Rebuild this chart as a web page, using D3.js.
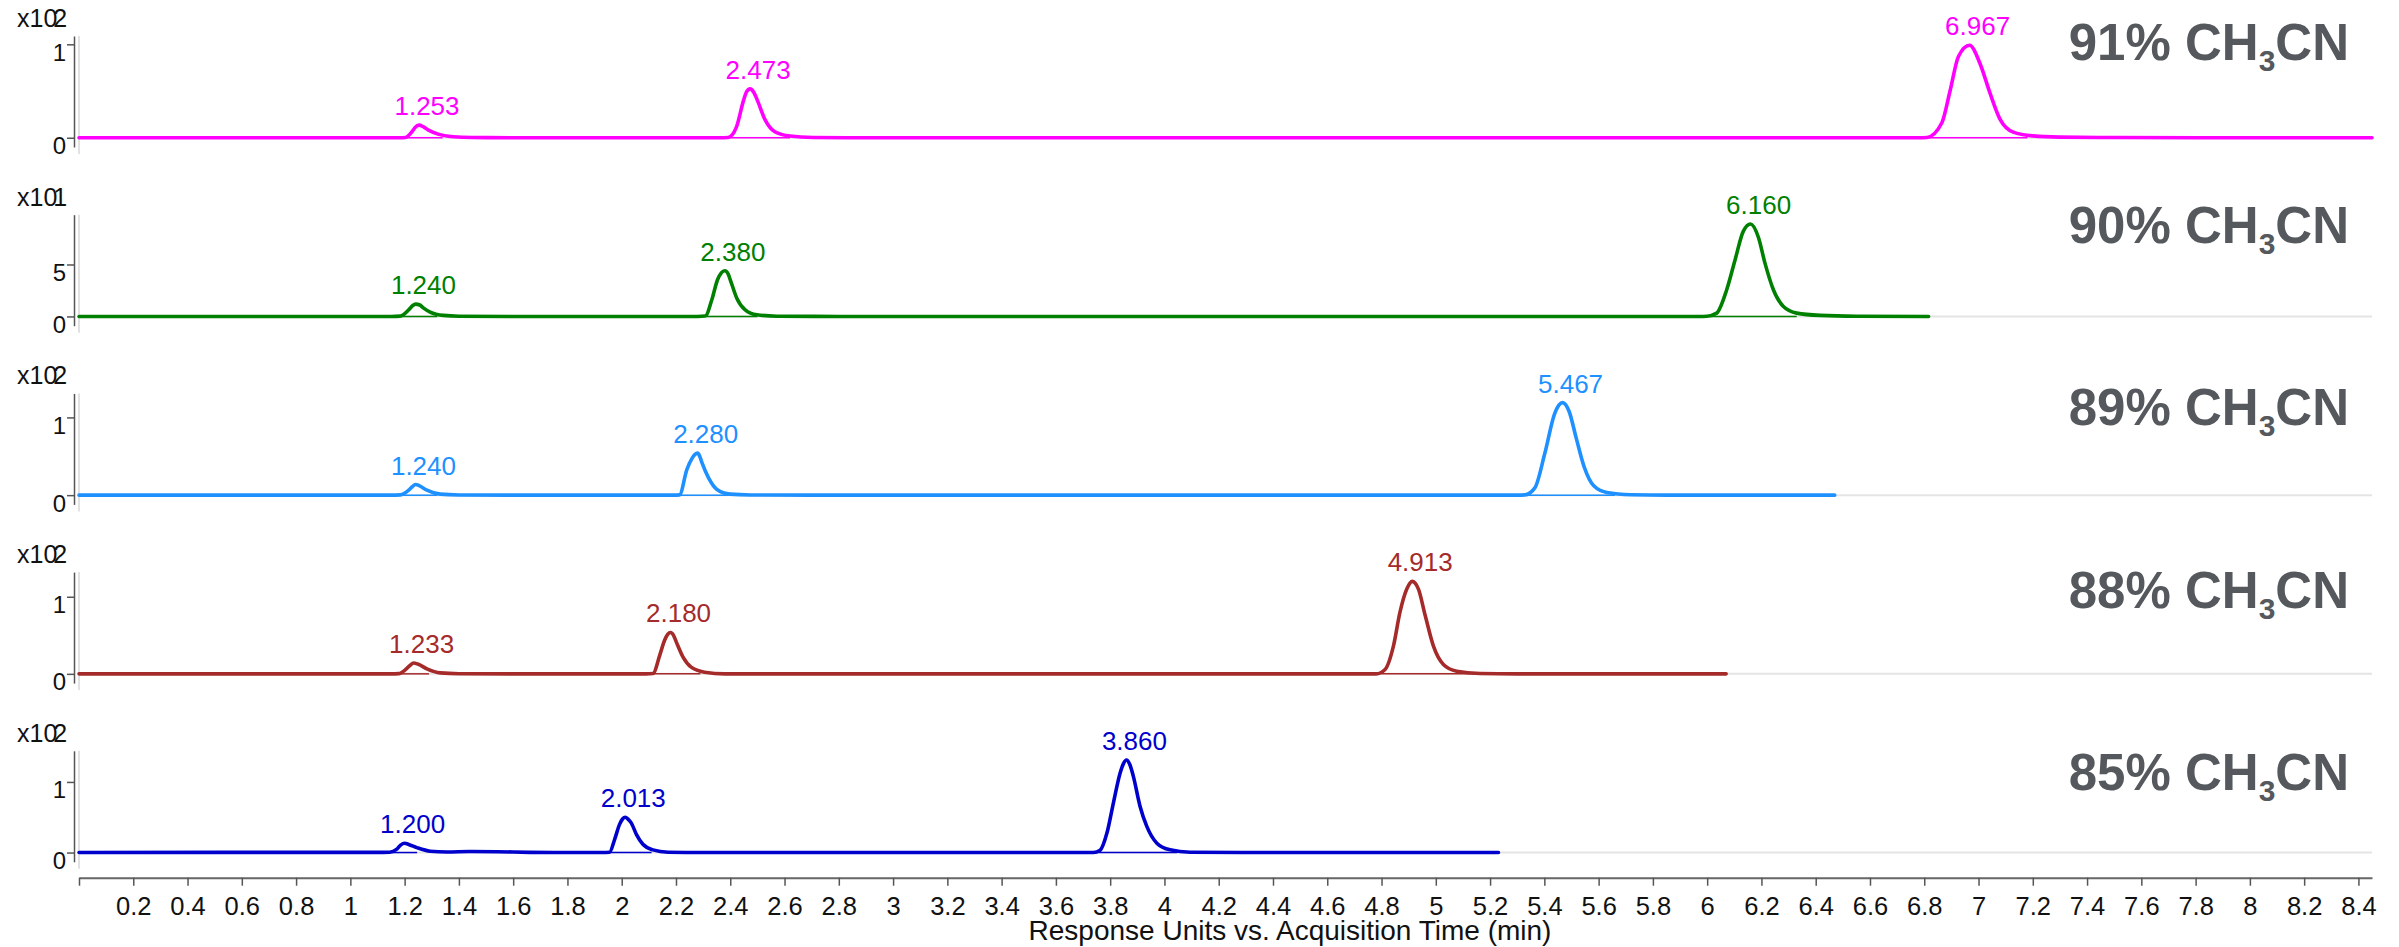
<!DOCTYPE html>
<html>
<head>
<meta charset="utf-8">
<script src="https://cdn.jsdelivr.net/npm/d3@7"></script>
<style>
  html, body { margin: 0; padding: 0; background: #fff; }
  svg { display: block; }
</style>
</head>
<body>
<svg id="chart" width="2399" height="947"></svg>
<script>
// ---------------------------------------------------------------------------
// Chromatograms at five acetonitrile contents (time in min, response in counts)
// ---------------------------------------------------------------------------
const panelLabels = ["91%", "90%", "89%", "88%", "85%"];
const yExponents  = [2, 1, 2, 2, 2];
const yTickValues = [[0, 100], [0, 50], [0, 100], [0, 100], [0, 100]];

// labelled peak apexes: retention time and apex height
const peakTimes = [
  [1.253, 2.473, 6.967],
  [1.240, 2.380, 6.160],
  [1.240, 2.280, 5.467],
  [1.233, 2.180, 4.913],
  [1.200, 2.013, 3.860]
];
const peakHeights = [
  [13.5, 52.3, 99],
  [11.9, 44.0, 89],
  [13.7, 54.1, 119],
  [14.0, 53.7, 120],
  [13.1, 50.0, 131]
];
// integration windows drawn under each peak
const peakWindows = [
  [[1.20, 1.34], [2.39, 2.62], [6.81, 7.18]],
  [[1.18, 1.32], [2.31, 2.50], [6.01, 6.33]],
  [[1.18, 1.32], [2.21, 2.40], [5.33, 5.66]],
  [[1.18, 1.29], [2.11, 2.29], [4.80, 5.16]],
  [[1.147, 1.246], [1.95, 2.11], [3.757, 4.047]]
];

// trace samples between the apexes [time, response]
const trace91 = [
  [0, 0], [1.0, 0], [1.18, 0], [1.203, 0.3], [1.228, 6.7], [1.238, 10.8], [1.268, 11.8],
  [1.288, 8.1], [1.323, 3.9], [1.379, 1.1], [1.45, 0.2], [1.6, 0], [2.0, 0], [2.36, 0],
  [2.392, 0.3], [2.423, 11.7], [2.449, 40], [2.46, 49], [2.487, 48.5], [2.500, 40],
  [2.529, 18.8], [2.564, 6.4], [2.620, 1.8], [2.705, 0.3], [2.9, 0], [4.0, 0], [5.5, 0],
  [6.78, 0], [6.81, 0.3], [6.865, 16], [6.895, 50], [6.926, 87], [7.006, 79], [7.042, 48],
  [7.079, 20], [7.128, 6], [7.2, 2], [7.3, 0.7], [7.5, 0.2], [8.0, 0], [8.45, 0]
];
const trace90 = [
  [0, 0], [1.15, 0], [1.184, 0.3], [1.215, 6.4], [1.230, 10.5], [1.256, 11.0], [1.270, 8.0],
  [1.294, 4.2], [1.343, 1.0], [1.40, 0.2], [1.6, 0], [2.28, 0], [2.308, 0.4], [2.332, 16.1],
  [2.353, 35.3], [2.367, 42], [2.392, 41], [2.40, 35.3], [2.424, 17.6], [2.455, 6.4],
  [2.498, 1.6], [2.572, 0.2], [2.8, 0], [4.5, 0], [5.97, 0], [5.999, 0.2], [6.035, 3.2],
  [6.072, 25.7], [6.103, 54.6], [6.133, 81.9], [6.189, 76], [6.213, 51.3], [6.244, 25.7],
  [6.281, 9.6], [6.330, 3.2], [6.416, 1], [6.55, 0.2], [6.816, 0]
];
const trace89 = [
  [0, 0], [1.15, 0], [1.184, 0.3], [1.215, 6.5], [1.228, 10.8], [1.255, 12], [1.282, 6.4],
  [1.331, 1.3], [1.40, 0.2], [1.6, 0], [2.19, 0], [2.213, 0.4], [2.240, 32.9], [2.259, 47.3],
  [2.270, 52.5], [2.288, 49.5], [2.296, 41.4], [2.320, 22.2], [2.351, 7.3], [2.4, 1.3],
  [2.473, 0.2], [2.7, 0], [4.5, 0], [5.30, 0], [5.328, 0.3], [5.365, 9.4], [5.402, 54.2],
  [5.438, 105], [5.492, 107], [5.517, 74], [5.547, 36], [5.582, 12], [5.63, 3.5],
  [5.72, 0.6], [5.85, 0], [6.47, 0]
];
const trace88 = [
  [0, 0], [1.0, 0], [1.15, 0], [1.178, 0.3], [1.205, 6], [1.220, 11], [1.248, 12.8],
  [1.282, 6.5], [1.331, 1.3], [1.40, 0.2], [1.6, 0], [2.09, 0], [2.115, 0.4], [2.140, 24],
  [2.158, 43.6], [2.170, 51.5], [2.191, 50], [2.201, 41.5], [2.226, 21.8], [2.256, 8.7],
  [2.305, 2.2], [2.38, 0], [4.0, 0], [4.78, 0], [4.813, 5.7], [4.844, 36.3], [4.868, 80],
  [4.893, 110], [4.936, 110], [4.961, 75.6], [4.991, 36.3], [5.028, 12.2], [5.077, 3.5],
  [5.163, 0.5], [5.3, 0], [6.07, 0]
];
const trace85 = [
  [0, 0], [1.0, 0.3], [1.12, 0.3], [1.145, 0.5], [1.17, 4.5], [1.185, 10.5], [1.215, 11.5],
  [1.245, 7], [1.294, 1.9], [1.356, 0.8], [1.44, 1.4], [1.54, 1.2], [1.66, 0.3], [1.8, 0],
  [1.93, 0], [1.955, 0.4], [1.974, 18.7], [1.992, 39.9], [2.003, 47.5], [2.024, 47],
  [2.035, 42], [2.054, 25.8], [2.078, 11.7], [2.115, 3.8], [2.171, 0.5], [2.3, 0], [3.5, 0],
  [3.738, 0], [3.763, 3.3], [3.788, 27.6], [3.812, 70.5], [3.837, 113], [3.849, 126],
  [3.872, 125], [3.885, 108.6], [3.910, 65.7], [3.935, 37], [3.972, 13.3], [4.021, 3.8],
  [4.095, 0.5], [4.3, 0], [5.231, 0]
];
const traces = [trace91, trace90, trace89, trace88, trace85];

const timeTicks = [0, 0.2, 0.4, 0.6, 0.8, 1, 1.2, 1.4, 1.6, 1.8, 2, 2.2, 2.4, 2.6, 2.8, 3,
  3.2, 3.4, 3.6, 3.8, 4, 4.2, 4.4, 4.6, 4.8, 5, 5.2, 5.4, 5.6, 5.8, 6, 6.2, 6.4, 6.6, 6.8, 7,
  7.2, 7.4, 7.6, 7.8, 8, 8.2, 8.4];
const timeDomain = [0, 8.45];

// ---------------------------------------------------------------------------
const FONT = "'Liberation Sans', Arial, Helvetica, sans-serif";
const traceColors = ["#ff00ff", "#008000", "#1e90ff", "#a52a2a", "#0000cd"];
const plotLeft = 79, plotRight = 2372;
const panelTop0 = 36, panelStep = 178.7, panelH = 111;

const svg = d3.select("#chart").attr("font-family", FONT);
const x = d3.scaleLinear().domain(timeDomain).range([plotLeft, plotRight]);

const line = d3.line().curve(d3.curveMonotoneX);

panelLabels.forEach((label, i) => {
  const top = panelTop0 + i * panelStep;
  const color = traceColors[i];
  const M = d3.max(peakHeights[i]);
  const y = d3.scaleLinear().domain([-0.1 * M, 1.1 * M]).range([top + panelH, top]);
  const g = svg.append("g");

  // plot frame: left edge and zero level
  g.append("line")
    .attr("x1", plotLeft).attr("x2", plotLeft)
    .attr("y1", top).attr("y2", top + panelH + 7)
    .attr("stroke", "#d8d8d8").attr("stroke-width", 1.5);
  g.append("line")
    .attr("x1", plotLeft).attr("x2", plotRight)
    .attr("y1", y(0)).attr("y2", y(0))
    .attr("stroke", "#e4e4e4").attr("stroke-width", 2);

  // y axis
  const exp = yExponents[i];
  const yAxis = d3.axisLeft(y)
    .tickValues(yTickValues[i])
    .tickSize(7).tickSizeOuter(0)
    .tickFormat(v => String(v / Math.pow(10, exp)));
  const ag = g.append("g")
    .attr("transform", "translate(74,0)")
    .call(yAxis)
    .attr("font-family", FONT).attr("font-size", 24);
  ag.select(".domain").attr("stroke", "#555").attr("stroke-width", 1.5);
  ag.selectAll(".tick line").attr("stroke", "#555").attr("stroke-width", 1.5);
  ag.selectAll(".tick text")
    .attr("x", -8).attr("dy", null).attr("y", 16)
    .attr("fill", "#111");

  // scale exponent
  const ex = g.append("text")
    .attr("x", 17).attr("y", top - 9)
    .attr("font-size", 25).attr("fill", "#111")
    .text("x10");
  const exW = ex.node().getComputedTextLength();
  g.append("text")
    .attr("x", 17 + exW - 4).attr("y", top - 9)
    .attr("font-size", 25).attr("fill", "#111")
    .text(exp);

  // integration baselines under peaks
  peakWindows[i].forEach(w => {
    g.append("line")
      .attr("x1", x(w[0])).attr("x2", x(w[1]))
      .attr("y1", y(0)).attr("y2", y(0))
      .attr("stroke", color).attr("stroke-width", 1.5);
  });

  // chromatogram trace (samples plus labelled apexes)
  const pts = traces[i]
    .concat(peakTimes[i].map((t, k) => [t, peakHeights[i][k]]))
    .sort((a, b) => a[0] - b[0]);
  line.x(d => x(d[0])).y(d => y(d[1]));
  g.append("path")
    .attr("d", line(pts))
    .attr("fill", "none")
    .attr("stroke", color)
    .attr("stroke-width", 3.6)
    .attr("stroke-linejoin", "round")
    .attr("stroke-linecap", "round");

  // retention-time labels
  peakTimes[i].forEach((t, k) => {
    g.append("text")
      .attr("x", x(t) + 8).attr("y", y(peakHeights[i][k]) - 10)
      .attr("text-anchor", "middle")
      .attr("font-size", 26).attr("fill", color)
      .text(d3.format(".3f")(t));
  });

  // solvent label
  const lab = svg.append("text")
    .attr("x", 2349).attr("y", 60 + i * 182.5)
    .attr("text-anchor", "end")
    .attr("fill", "#55585c").attr("font-weight", "bold")
    .attr("font-size", 51);
  lab.append("tspan").text(label + " CH");
  lab.append("tspan").attr("dy", 11).attr("font-size", 30).text("3");
  lab.append("tspan").attr("dy", -11).text("CN");
});

// shared time axis
const xAxis = d3.axisBottom(x)
  .tickValues(timeTicks)
  .tickSize(8).tickSizeOuter(0)
  .tickFormat(v => v === 0 ? "" : d3.format("~g")(v));
const xg = svg.append("g")
  .attr("transform", "translate(0,877.7)")
  .call(xAxis)
  .attr("font-family", FONT).attr("font-size", 25.5);
xg.select(".domain").attr("stroke", "#666").attr("stroke-width", 2);
xg.selectAll(".tick line").attr("stroke", "#555").attr("stroke-width", 1.5);
xg.selectAll(".tick text").attr("dy", null).attr("y", 37).attr("fill", "#111");

svg.append("text")
  .attr("x", 1290).attr("y", 940)
  .attr("text-anchor", "middle")
  .attr("font-size", 28).attr("fill", "#111")
  .text("Response Units vs. Acquisition Time (min)");
</script>
</body>
</html>
